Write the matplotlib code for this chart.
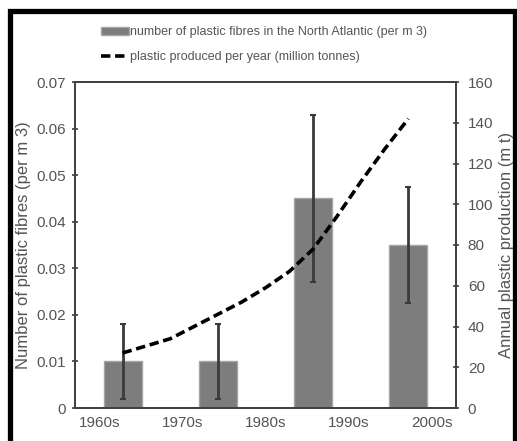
import numpy as np
import matplotlib
matplotlib.use('Agg')
import matplotlib.pyplot as plt
from matplotlib.patches import Rectangle

plt.rcParams['font.family'] = ['Liberation Sans', 'DejaVu Sans']

decades = ['1960s', '1970s', '1980s', '1990s', '2000s']
fibres = [0.010, 0.010, 0.045, 0.035]
fibres_err = [0.008, 0.008, 0.018, 0.0125]
prod_x = [0, 0.25, 0.5, 0.75, 1, 1.25, 1.5, 1.75, 2, 2.25, 2.5, 2.75, 3]
prod_vals = [27, 30.5, 34, 40, 46, 52, 59, 67, 78, 94, 111, 127, 142]

txt = '#555555'
spine = '#404040'

fig = plt.figure(figsize=(5.17, 4.41), dpi=100)
ax = fig.add_axes([75 / 517, 1 - 408 / 441, (456 - 75) / 517, (408 - 82) / 441])
ax2 = ax.twinx()

xb = np.arange(len(fibres))
bars = ax.bar(xb, fibres, width=0.4, color='#7d7d7d', edgecolor='#a5a5a5', linewidth=1,
              label='number of plastic fibres in the North Atlantic (per m 3)', zorder=2)
ax.errorbar(xb, fibres, yerr=fibres_err, fmt='none', ecolor='#3a3a3a', elinewidth=2,
            capsize=2, capthick=1.5, zorder=3)

line, = ax2.plot(prod_x, prod_vals, color='black', lw=2.6, ls=(0, (2.6, 1.3)),
                 label='plastic produced per year (million tonnes)')

ax.set_xlim(-0.5, 3.5)
ax.set_ylim(0, 0.07)
ax2.set_ylim(0, 160)

ax.set_yticks(np.arange(0, 0.071, 0.01))
ax.set_yticklabels(['0'] + ['%.2f' % v for v in np.arange(0.01, 0.071, 0.01)])
ax2.set_yticks(np.arange(0, 161, 20))

ax.set_xticks(np.linspace(-0.24, 3.25, 5))
ax.set_xticklabels(decades)
ax.tick_params(axis='x', length=0, pad=6, labelsize=11, labelcolor=txt)
ax.tick_params(axis='y', direction='inout', length=5, width=1.2, color=spine,
               labelsize=11, labelcolor=txt, pad=4)
ax2.tick_params(axis='y', direction='inout', length=5, width=1.2, color=spine,
                labelsize=11, labelcolor=txt, pad=6)

for a in (ax, ax2):
    for s in a.spines.values():
        s.set_color(spine)
        s.set_linewidth(1.3)

ax.set_ylabel('Number of plastic fibres (per m 3)', fontsize=12, color=txt, labelpad=4)
ax2.set_ylabel('Annual plastic production (m t)', fontsize=12, color=txt, labelpad=4)

fig.legend(handles=[bars, line], loc='upper left', bbox_to_anchor=(96 / 517, 1 - 21 / 441),
           frameon=False, fontsize=9, handlelength=2.2, handleheight=0.6, handletextpad=0.1,
           labelspacing=1.05, labelcolor=txt, borderaxespad=0)

# black frame around the figure
fig.patches.append(Rectangle((9.5 / 517, -0.1), (514.5 - 9.5) / 517, 1.1 - 11 / 441,
                             transform=fig.transFigure, fill=False, edgecolor='black',
                             linewidth=3.8, zorder=10))

fig.savefig('out.png', dpi=100)
